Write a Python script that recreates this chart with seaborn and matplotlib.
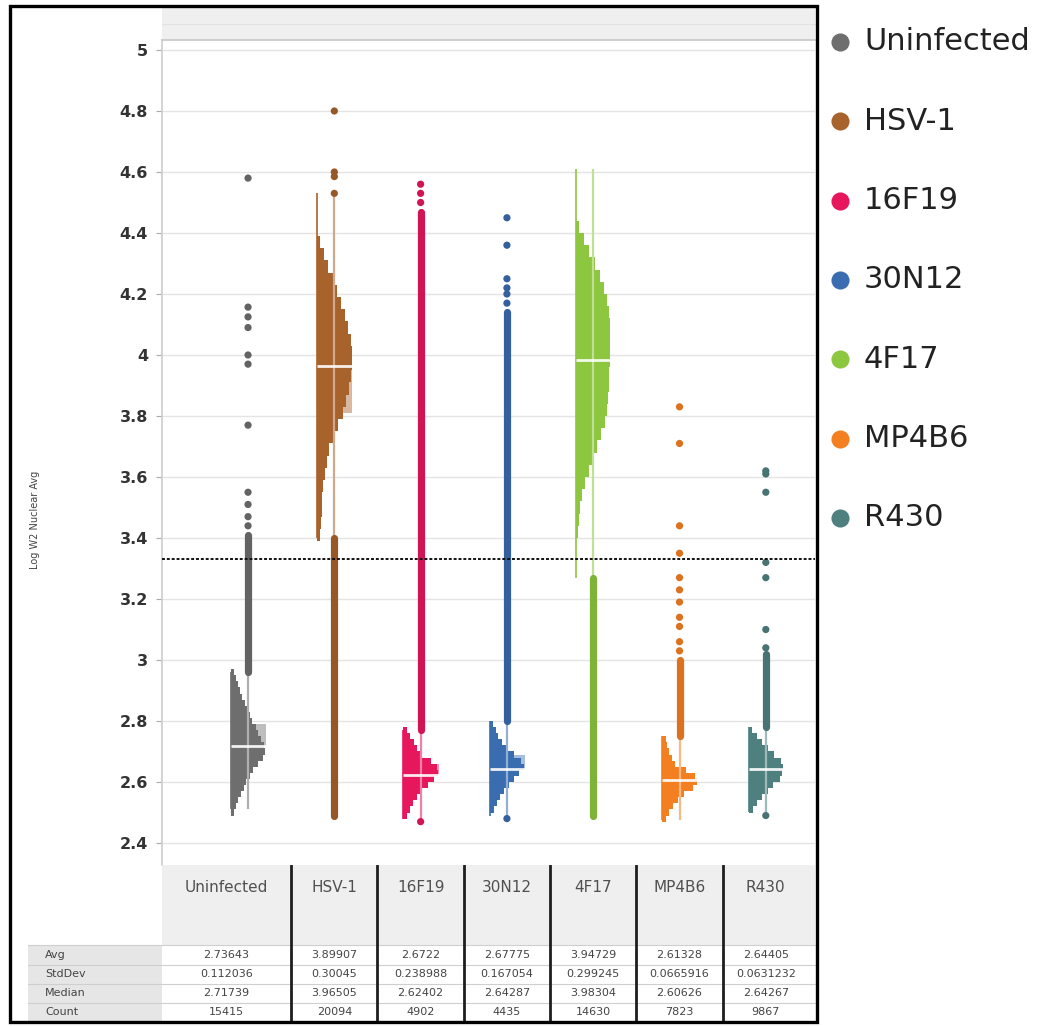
import numpy as np
import pandas as pd
import matplotlib
matplotlib.use("Agg")
import matplotlib.pyplot as plt
import matplotlib.colors as mcolors
from matplotlib.patches import Rectangle
import seaborn as sns

# ---------------------------------------------------------------- data
groups = ["Uninfected", "HSV-1", "16F19", "30N12", "4F17", "MP4B6", "R430"]
colors = ["#6E6E6E", "#A8622C", "#E6175C", "#3A6CB0", "#8DC63F", "#F47F20", "#4F8080"]

# summary statistics per group
avg = [2.73643, 3.89907, 2.6722, 2.67775, 3.94729, 2.61328, 2.64405]
stddev = [0.112036, 0.30045, 0.238988, 0.167054, 0.299245, 0.0665916, 0.0631232]
median = [2.71739, 3.96505, 2.62402, 2.64287, 3.98304, 2.60626, 2.64267]
count = [15415, 20094, 4902, 4435, 14630, 7823, 9867]

threshold = 3.33

# histogram profiles: lower edge of first bin, bin width, relative bar lengths
hist_start = [2.49, 3.39, 2.48, 2.50, 3.40, 2.47, 2.50]
hist_step = [0.02, 0.04, 0.02, 0.02, 0.04, 0.02, 0.02]
hist_uninfected = [0.08, 0.15, 0.22, 0.30, 0.38, 0.45, 0.55, 0.65, 0.78, 0.92, 1.00, 0.95,
                   0.88, 0.80, 0.72, 0.62, 0.55, 0.47, 0.40, 0.33, 0.27, 0.20, 0.15, 0.10]
hist_hsv1 = [0.08, 0.12, 0.14, 0.15, 0.18, 0.22, 0.28, 0.34, 0.45, 0.60, 0.75, 0.85, 0.92,
             0.97, 1.00, 1.00, 0.97, 0.90, 0.80, 0.70, 0.58, 0.45, 0.33, 0.20, 0.08]
hist_16f19 = [0.10, 0.18, 0.28, 0.40, 0.55, 0.72, 0.88, 1.00, 0.98, 0.80, 0.55, 0.40, 0.30, 0.20, 0.10]
hist_30n12 = [0.12, 0.20, 0.30, 0.42, 0.55, 0.70, 0.85, 1.00, 0.92, 0.70, 0.50, 0.35, 0.25, 0.17, 0.10]
hist_4f17 = [0.05, 0.08, 0.12, 0.18, 0.27, 0.38, 0.50, 0.60, 0.72, 0.85, 0.90, 0.93, 0.95,
             0.97, 1.00, 1.00, 1.00, 0.98, 0.95, 0.90, 0.82, 0.70, 0.55, 0.38, 0.22, 0.08]
hist_mp4b6 = [0.10, 0.20, 0.30, 0.45, 0.62, 0.88, 1.00, 0.95, 0.70, 0.38, 0.28, 0.20, 0.15, 0.10]
hist_r430 = [0.12, 0.25, 0.38, 0.55, 0.72, 0.90, 0.97, 1.00, 0.95, 0.75, 0.55, 0.38, 0.25, 0.10]
hist_profiles = [hist_uninfected, hist_hsv1, hist_16f19, hist_30n12, hist_4f17, hist_mp4b6, hist_r430]

# quantile box edge drawn from the median (NaN = none shown)
box_edge = [2.79, 3.81, 2.66, 2.69, np.nan, np.nan, np.nan]

# whisker range (thin lines) and densely packed point range
whisker_lo = [2.51, 3.40, 2.48, 2.49, 3.27, 2.475, 2.50]
whisker_hi = [2.96, 4.53, 2.77, 2.80, 4.61, 2.75, 2.78]
dense_lo = [2.96, 2.49, 2.77, 2.80, 2.49, 2.75, 2.78]
dense_hi = [3.41, 3.40, 4.47, 4.14, 3.27, 3.00, 3.02]

# individually visible points
pts_uninfected = [3.44, 3.47, 3.51, 3.55, 3.77, 3.97, 4.00, 4.09, 4.125, 4.157, 4.58]
pts_hsv1 = [4.53, 4.585, 4.60, 4.80]
pts_16f19 = [2.47, 4.50, 4.53, 4.56]
pts_30n12 = [2.48, 4.17, 4.20, 4.22, 4.25, 4.36, 4.45]
pts_4f17 = []
pts_mp4b6 = [3.03, 3.06, 3.11, 3.14, 3.19, 3.23, 3.27, 3.35, 3.44, 3.71, 3.83]
pts_r430 = [2.49, 3.04, 3.10, 3.27, 3.32, 3.55, 3.61, 3.62]
point_lists = [pts_uninfected, pts_hsv1, pts_16f19, pts_30n12, pts_4f17, pts_mp4b6, pts_r430]

# ---------------------------------------------------------------- style
sns.set_theme(style="white")
plt.rcParams["font.family"] = ["DejaVu Sans"]

W, H = 1046, 1026
fig = plt.figure(figsize=(W / 100, H / 100), dpi=100)


def fax(x0, y0, x1, y1):
    return [x0 / W, 1 - y1 / H, (x1 - x0) / W, (y1 - y0) / H]


def shade(c, f):
    r, g, b = mcolors.to_rgb(c)
    return (r * f, g * f, b * f)


def tint(c, f):
    r, g, b = mcolors.to_rgb(c)
    return (r + (1 - r) * f, g + (1 - g) * f, b + (1 - b) * f)


XLIM = (-0.997, 6.57)
HALF = 0.2      # histogram baseline offset from the category centre
HIST_W = 0.4    # length of the longest histogram bar

# background overlay (header band above plot)
bg = fig.add_axes([0, 0, 1, 1], zorder=0)
bg.set_xlim(0, W)
bg.set_ylim(H, 0)
bg.axis("off")
bg.add_patch(Rectangle((162, 8), 653, 32, color="#EFEFEF", lw=0))
bg.plot([162, 815], [24, 24], color="#E2E2E2", lw=0.8)

# ---------------------------------------------------------------- main plot
ax = fig.add_axes(fax(162, 40, 815, 865), zorder=1)

for i, g in enumerate(groups):
    c = colors[i]
    prof = np.asarray(hist_profiles[i])
    edges = hist_start[i] + hist_step[i] * np.arange(len(prof))
    ax.barh(edges, prof * HIST_W, height=hist_step[i], left=i - HALF, align="edge",
            color=c, linewidth=0, zorder=2)
    if not np.isnan(box_edge[i]):
        lo, hi = sorted([median[i], box_edge[i]])
        ax.add_patch(Rectangle((i + 0.05, lo), 0.16, hi - lo, color=tint(c, 0.55),
                               lw=0, zorder=1.8))
    ax.vlines(i - HALF, whisker_lo[i], whisker_hi[i], color=c, lw=1.2, zorder=2.2)
    ax.vlines(i, whisker_lo[i], whisker_hi[i], color=tint(c, 0.45), lw=1.6, zorder=2.5)
    ax.plot([i, i], [dense_lo[i], dense_hi[i]], color=shade(c, 0.9), lw=5.2,
            solid_capstyle="round", zorder=3)
    ax.hlines(median[i], i - HALF, i - HALF + HIST_W + 0.02, color="white", lw=2,
              alpha=0.9, zorder=4)

pts = pd.DataFrame({
    "group": [g for g, p in zip(groups, point_lists) for _ in p],
    "value": [v for p in point_lists for v in p],
})
sns.stripplot(data=pts, x="group", y="value", hue="group", order=groups,
              hue_order=groups, palette={g: shade(c, 0.9) for g, c in zip(groups, colors)},
              jitter=False, size=5.2, linewidth=0, legend=False, ax=ax, zorder=3)

ax.axhline(threshold, color="#111111", lw=1.4, ls=(0, (1.5, 1)), zorder=5)

ax.set_xlim(*XLIM)
ax.set_ylim(2.4 - 22 / 305, 5.0 + 10 / 305)
yt = np.round(np.arange(2.4, 5.001, 0.2), 1)
ax.set_yticks(yt)
ax.set_yticklabels([f"{v:g}" for v in yt], fontsize=11.5, fontweight="bold", color="#333333")
ax.tick_params(axis="y", left=True, length=4, width=0.8, color="#AAAAAA", pad=6)
ax.set_xticks([])
ax.set_xlabel("")
ax.set_ylabel("")
ax.yaxis.grid(True, color="#E4E4E4", lw=1)
ax.set_axisbelow(True)
for s in ["right", "bottom"]:
    ax.spines[s].set_visible(False)
ax.spines["left"].set_color("#CFCFCF")
ax.spines["top"].set_color("#C8C8C8")

fig.text(35 / W, 1 - 520 / H, "Log W2 Nuclear Avg", rotation=90, fontsize=7,
         ha="center", va="center", color="#444444")

# ---------------------------------------------------------------- table
tab = fig.add_axes(fax(162, 865, 815, 1022), zorder=1)
tab.set_xlim(*XLIM)
tab.set_ylim(157, 0)
tab.axis("off")
x_label_col = (28 - 248) / 86.3
x_row_text = (45 - 248) / 86.3

tab.add_patch(Rectangle((XLIM[0], 0), XLIM[1] - XLIM[0], 80, color="#EFEFEF", lw=0))
tab.add_patch(Rectangle((x_label_col, 80), XLIM[0] - x_label_col, 77, color="#E6E6E6",
                        lw=0, clip_on=False))
tab.add_patch(Rectangle((XLIM[0], 80), XLIM[1] - XLIM[0], 77, color="white", lw=0))

row_y = [90, 109, 128, 147]
for yl in [80, 99.5, 118.5, 137.5]:
    tab.plot([x_label_col, XLIM[1]], [yl, yl], color="#CFCFCF", lw=0.8, clip_on=False)

for k in range(6):
    tab.plot([k + 0.5, k + 0.5], [0, 157], color="#1E1E1E", lw=2)

col_x = [(XLIM[0] + 0.5) / 2] + list(range(1, 7))
for i, g in enumerate(groups):
    tab.text(col_x[i], 23, g, ha="center", va="center", fontsize=11, color="#505050")

row_names = ["Avg", "StdDev", "Median", "Count"]
row_vals = [avg, stddev, median, count]
for name, vals, y in zip(row_names, row_vals, row_y):
    tab.text(x_row_text, y, name, ha="left", va="center", fontsize=8, color="#444444",
             clip_on=False)
    for i, v in enumerate(vals):
        tab.text(col_x[i], y, f"{v:g}", ha="center", va="center", fontsize=8,
                 color="#444444")

# ---------------------------------------------------------------- frame + legend
fg = fig.add_axes([0, 0, 1, 1], zorder=3)
fg.set_xlim(0, W)
fg.set_ylim(H, 0)
fg.axis("off")
fg.patch.set_visible(False)
fg.add_patch(Rectangle((10, 6), 807, 1016, fill=False, edgecolor="black", lw=2.4))

for k, (g, c) in enumerate(zip(groups, colors)):
    y = 42 + k * 79.3
    fg.scatter([840], [y], s=170, color=c, linewidths=0)
    fg.text(864, y, g, ha="left", va="center", fontsize=22, color="#222222")

fig.savefig("out.png", dpi=100)
